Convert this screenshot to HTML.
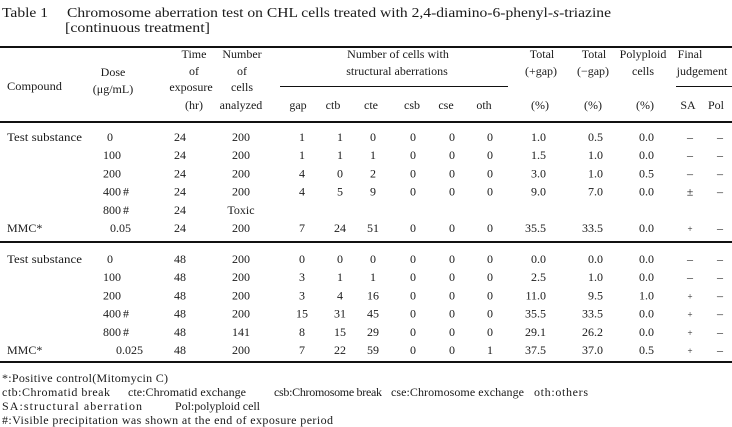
<!DOCTYPE html>
<html><head><meta charset="utf-8">
<style>
html,body{margin:0;padding:0;background:#fff;}
svg{display:block}
.m{text-anchor:middle}
.e{text-anchor:end}
</style></head>
<body>
<svg width="732" height="427" viewBox="0 0 732 427" xmlns="http://www.w3.org/2000/svg" font-family="'Liberation Serif', serif" font-size="12" fill="#1a1a1a">
<rect x="0" y="0" width="732" height="427" fill="#fff"/>
<!-- Title -->
<text x="2" y="17" font-size="14" textLength="46" lengthAdjust="spacingAndGlyphs">Table 1</text>
<text x="67" y="17" font-size="14" textLength="544" lengthAdjust="spacingAndGlyphs">Chromosome aberration test on CHL cells treated with 2,4-diamino-6-phenyl-<tspan font-style="italic">s</tspan>-triazine</text>
<text x="65" y="32" font-size="14" textLength="145" lengthAdjust="spacingAndGlyphs">[continuous treatment]</text>

<!-- Rules -->
<rect x="0" y="46" width="732" height="2" fill="#111"/>
<rect x="0" y="121" width="732" height="2" fill="#111"/>
<rect x="0" y="241" width="732" height="2" fill="#111"/>
<rect x="0" y="361" width="732" height="2" fill="#111"/>
<rect x="280" y="86" width="228" height="1" fill="#111"/>
<rect x="676" y="86" width="56" height="1" fill="#111"/>

<!-- Header -->
<text x="7" y="90" textLength="55" lengthAdjust="spacingAndGlyphs">Compound</text>
<text class="m" x="113" y="76">Dose</text>
<text class="m" x="113" y="93">(μg/mL)</text>
<text class="m" x="194" y="58">Time</text>
<text class="m" x="194" y="75">of</text>
<text class="m" x="191" y="91">exposure</text>
<text class="m" x="194" y="109">(hr)</text>
<text class="m" x="242" y="58">Number</text>
<text class="m" x="242" y="75">of</text>
<text class="m" x="242" y="91">cells</text>
<text class="m" x="241" y="109">analyzed</text>
<text class="m" x="398" y="58">Number of cells with</text>
<text class="m" x="397" y="75">structural aberrations</text>
<text class="m" x="298" y="109">gap</text>
<text class="m" x="333" y="109">ctb</text>
<text class="m" x="371" y="109">cte</text>
<text class="m" x="412" y="109">csb</text>
<text class="m" x="446" y="109">cse</text>
<text class="m" x="484" y="109">oth</text>
<text class="m" x="542" y="58">Total</text>
<text class="m" x="541" y="75">(+gap)</text>
<text class="m" x="540" y="109">(%)</text>
<text class="m" x="594" y="58">Total</text>
<text class="m" x="593" y="75">(−gap)</text>
<text class="m" x="593" y="109">(%)</text>
<text class="m" x="643" y="58">Polyploid</text>
<text class="m" x="643" y="75">cells</text>
<text class="m" x="645" y="109">(%)</text>
<text class="m" x="690" y="58">Final</text>
<text class="m" x="702" y="75">judgement</text>
<text class="m" x="688" y="109">SA</text>
<text class="m" x="716" y="109">Pol</text>

<!-- Block 1 -->
<g>
<text x="7" y="141" textLength="75" lengthAdjust="spacingAndGlyphs">Test substance</text>
<text class="m" x="110" y="141">0</text>
<text class="m" x="180" y="141">24</text><text class="m" x="241" y="141">200</text>
<text class="m" x="302" y="141">1</text><text class="m" x="340" y="141">1</text><text class="m" x="373" y="141">0</text><text class="m" x="413" y="141">0</text><text class="m" x="452" y="141">0</text><text class="m" x="490" y="141">0</text>
<text class="e" x="546" y="141">1.0</text><text class="e" x="603" y="141">0.5</text><text class="e" x="654" y="141">0.0</text>
<text class="m" x="690" y="141">–</text><text class="m" x="720" y="141">–</text>
</g>
<g>
<text x="103" y="159.2">100</text>
<text class="m" x="180" y="159.2">24</text><text class="m" x="241" y="159.2">200</text>
<text class="m" x="302" y="159.2">1</text><text class="m" x="340" y="159.2">1</text><text class="m" x="373" y="159.2">1</text><text class="m" x="413" y="159.2">0</text><text class="m" x="452" y="159.2">0</text><text class="m" x="490" y="159.2">0</text>
<text class="e" x="546" y="159.2">1.5</text><text class="e" x="603" y="159.2">1.0</text><text class="e" x="654" y="159.2">0.0</text>
<text class="m" x="690" y="159.2">–</text><text class="m" x="720" y="159.2">–</text>
</g>
<g>
<text x="103" y="177.4">200</text>
<text class="m" x="180" y="177.4">24</text><text class="m" x="241" y="177.4">200</text>
<text class="m" x="302" y="177.4">4</text><text class="m" x="340" y="177.4">0</text><text class="m" x="373" y="177.4">2</text><text class="m" x="413" y="177.4">0</text><text class="m" x="452" y="177.4">0</text><text class="m" x="490" y="177.4">0</text>
<text class="e" x="546" y="177.4">3.0</text><text class="e" x="603" y="177.4">1.0</text><text class="e" x="654" y="177.4">0.5</text>
<text class="m" x="690" y="177.4">–</text><text class="m" x="720" y="177.4">–</text>
</g>
<g>
<text x="103" y="195.6">400<tspan dx="2">#</tspan></text>
<text class="m" x="180" y="195.6">24</text><text class="m" x="241" y="195.6">200</text>
<text class="m" x="302" y="195.6">4</text><text class="m" x="340" y="195.6">5</text><text class="m" x="373" y="195.6">9</text><text class="m" x="413" y="195.6">0</text><text class="m" x="452" y="195.6">0</text><text class="m" x="490" y="195.6">0</text>
<text class="e" x="546" y="195.6">9.0</text><text class="e" x="603" y="195.6">7.0</text><text class="e" x="654" y="195.6">0.0</text>
<text class="m" x="690" y="195.6">±</text><text class="m" x="720" y="195.6">–</text>
</g>
<g>
<text x="103" y="213.8">800<tspan dx="2">#</tspan></text>
<text class="m" x="180" y="213.8">24</text><text class="m" x="241" y="213.8">Toxic</text>
</g>
<g>
<text x="7" y="232">MMC*</text>
<text x="110" y="232">0.05</text>
<text class="m" x="180" y="232">24</text><text class="m" x="241" y="232">200</text>
<text class="m" x="302" y="232">7</text><text class="m" x="340" y="232">24</text><text class="m" x="373" y="232">51</text><text class="m" x="413" y="232">0</text><text class="m" x="452" y="232">0</text><text class="m" x="490" y="232">0</text>
<text class="e" x="546" y="232">35.5</text><text class="e" x="603" y="232">33.5</text><text class="e" x="654" y="232">0.0</text>
<text class="m" x="690" y="232" font-size="9">+</text><text class="m" x="720" y="232">–</text>
</g>

<!-- Block 2 -->
<g>
<text x="7" y="263" textLength="75" lengthAdjust="spacingAndGlyphs">Test substance</text>
<text class="m" x="110" y="263">0</text>
<text class="m" x="180" y="263">48</text><text class="m" x="241" y="263">200</text>
<text class="m" x="302" y="263">0</text><text class="m" x="340" y="263">0</text><text class="m" x="373" y="263">0</text><text class="m" x="413" y="263">0</text><text class="m" x="452" y="263">0</text><text class="m" x="490" y="263">0</text>
<text class="e" x="546" y="263">0.0</text><text class="e" x="603" y="263">0.0</text><text class="e" x="654" y="263">0.0</text>
<text class="m" x="690" y="263">–</text><text class="m" x="720" y="263">–</text>
</g>
<g>
<text x="103" y="281.2">100</text>
<text class="m" x="180" y="281.2">48</text><text class="m" x="241" y="281.2">200</text>
<text class="m" x="302" y="281.2">3</text><text class="m" x="340" y="281.2">1</text><text class="m" x="373" y="281.2">1</text><text class="m" x="413" y="281.2">0</text><text class="m" x="452" y="281.2">0</text><text class="m" x="490" y="281.2">0</text>
<text class="e" x="546" y="281.2">2.5</text><text class="e" x="603" y="281.2">1.0</text><text class="e" x="654" y="281.2">0.0</text>
<text class="m" x="690" y="281.2">–</text><text class="m" x="720" y="281.2">–</text>
</g>
<g>
<text x="103" y="299.4">200</text>
<text class="m" x="180" y="299.4">48</text><text class="m" x="241" y="299.4">200</text>
<text class="m" x="302" y="299.4">3</text><text class="m" x="340" y="299.4">4</text><text class="m" x="373" y="299.4">16</text><text class="m" x="413" y="299.4">0</text><text class="m" x="452" y="299.4">0</text><text class="m" x="490" y="299.4">0</text>
<text class="e" x="546" y="299.4">11.0</text><text class="e" x="603" y="299.4">9.5</text><text class="e" x="654" y="299.4">1.0</text>
<text class="m" x="690" y="299.4" font-size="9">+</text><text class="m" x="720" y="299.4">–</text>
</g>
<g>
<text x="103" y="317.6">400<tspan dx="2">#</tspan></text>
<text class="m" x="180" y="317.6">48</text><text class="m" x="241" y="317.6">200</text>
<text class="m" x="302" y="317.6">15</text><text class="m" x="340" y="317.6">31</text><text class="m" x="373" y="317.6">45</text><text class="m" x="413" y="317.6">0</text><text class="m" x="452" y="317.6">0</text><text class="m" x="490" y="317.6">0</text>
<text class="e" x="546" y="317.6">35.5</text><text class="e" x="603" y="317.6">33.5</text><text class="e" x="654" y="317.6">0.0</text>
<text class="m" x="690" y="317.6" font-size="9">+</text><text class="m" x="720" y="317.6">–</text>
</g>
<g>
<text x="103" y="335.8">800<tspan dx="2">#</tspan></text>
<text class="m" x="180" y="335.8">48</text><text class="m" x="241" y="335.8">141</text>
<text class="m" x="302" y="335.8">8</text><text class="m" x="340" y="335.8">15</text><text class="m" x="373" y="335.8">29</text><text class="m" x="413" y="335.8">0</text><text class="m" x="452" y="335.8">0</text><text class="m" x="490" y="335.8">0</text>
<text class="e" x="546" y="335.8">29.1</text><text class="e" x="603" y="335.8">26.2</text><text class="e" x="654" y="335.8">0.0</text>
<text class="m" x="690" y="335.8" font-size="9">+</text><text class="m" x="720" y="335.8">–</text>
</g>
<g>
<text x="7" y="354">MMC*</text>
<text x="116" y="354">0.025</text>
<text class="m" x="180" y="354">48</text><text class="m" x="241" y="354">200</text>
<text class="m" x="302" y="354">7</text><text class="m" x="340" y="354">22</text><text class="m" x="373" y="354">59</text><text class="m" x="413" y="354">0</text><text class="m" x="452" y="354">0</text><text class="m" x="490" y="354">1</text>
<text class="e" x="546" y="354">37.5</text><text class="e" x="603" y="354">37.0</text><text class="e" x="654" y="354">0.5</text>
<text class="m" x="690" y="354" font-size="9">+</text><text class="m" x="720" y="354">–</text>
</g>

<!-- Footnotes -->
<text x="2" y="382" textLength="166" lengthAdjust="spacing">*:Positive control(Mitomycin C)</text>
<text x="2" y="396" textLength="108" lengthAdjust="spacing">ctb:Chromatid break</text>
<text x="128" y="396" textLength="118" lengthAdjust="spacing">cte:Chromatid exchange</text>
<text x="274" y="396" textLength="108" lengthAdjust="spacing">csb:Chromosome break</text>
<text x="391" y="396" textLength="133" lengthAdjust="spacing">cse:Chromosome exchange</text>
<text x="534" y="396" textLength="54" lengthAdjust="spacing">oth:others</text>
<text x="2" y="410" textLength="140" lengthAdjust="spacing">SA:structural aberration</text>
<text x="175" y="410" textLength="85" lengthAdjust="spacing">Pol:polyploid cell</text>
<text x="2" y="424" textLength="331" lengthAdjust="spacing">#:Visible precipitation was shown at the end of exposure period</text>
</svg>
</body></html>
